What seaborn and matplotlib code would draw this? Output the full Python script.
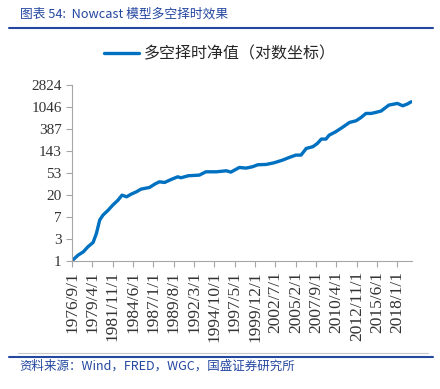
import numpy as np
import pandas as pd
import seaborn as sns
import matplotlib.pyplot as plt
import matplotlib.dates as mdates

# net value of the long/short timing strategy (log scale)
dates = ['1976-09', '1977-06', '1978-02', '1978-09', '1979-05', '1979-10', '1980-03',
         '1980-08', '1981-04', '1981-11', '1982-07', '1983-01', '1983-08', '1984-03',
         '1984-11', '1985-06', '1986-07', '1987-03', '1987-10', '1988-06', '1989-04',
         '1990-02', '1990-07', '1991-06', '1992-11', '1993-09', '1995-01', '1996-04',
         '1996-11', '1997-12', '1998-10', '1999-08', '2000-04', '2001-05', '2002-05',
         '2003-06', '2004-04', '2005-02', '2005-10', '2006-06', '2007-04', '2007-11',
         '2008-05', '2008-12', '2009-05', '2010-03', '2011-01', '2011-12', '2012-10',
         '2013-05', '2014-01', '2014-09', '2015-04', '2015-12', '2016-12', '2018-01',
         '2018-09', '2019-04', '2019-10']
net_value = [1.0, 1.28, 1.49, 1.87, 2.28, 3.42, 6.26,
             7.86, 9.85, 12.4, 15.5, 19.4, 18.0, 20.3,
             22.6, 25.5, 27.5, 32.0, 35.5, 34.5, 39.5,
             44.6, 42.6, 46.7, 48.1, 55.9, 55.9, 58.5,
             55.1, 68.0, 66.0, 70.2, 76.8, 78.0, 84.1,
             95.0, 107, 119, 119, 161, 174, 202,
             246, 246, 294, 343, 417, 523, 564,
             646, 786, 786, 823, 874, 1147, 1236,
             1112, 1200, 1332]

ytick_labels = ['1', '3', '7', '20', '53', '143', '387', '1046', '2824']
series_name = '多空择时净值（对数坐标）'
title = '图表 54:  Nowcast 模型多空择时效果'
source = '资料来源：Wind，FRED，WGC，国盛证券研究所'

df = pd.DataFrame({'date': pd.to_datetime(dates), 'value': net_value})

sns.set_theme(style='ticks')
plt.rcParams['font.family'] = ['Noto Sans CJK SC', 'DejaVu Sans']

blue = '#0070C0'
dark_blue = '#2447A0'
grey = '#A6A6A6'

fig = plt.figure(figsize=(4.4, 3.89), dpi=100)
ax = fig.add_axes([0.164, 0.330, 0.772, 0.451])

sns.lineplot(data=df, x='date', y='value', ax=ax, color=blue, linewidth=2.4)

ax.set_yscale('log')
yticks = [2.7 ** k for k in range(len(ytick_labels))]
ax.set_yticks(yticks)
ax.set_yticklabels(ytick_labels)
ax.yaxis.set_minor_locator(plt.NullLocator())
ax.set_ylim(1, yticks[-1])

xticks = pd.date_range('1976-09-01', '2018-01-01', freq='31MS')
ax.set_xticks(xticks)
ax.set_xticklabels([f'{d.year}/{d.month}/{d.day}' for d in xticks], rotation=90)
ax.set_xlim(pd.Timestamp('1976-09-01'), pd.Timestamp('2019-11-01'))

ax.set_xlabel('')
ax.set_ylabel('')
for side in ['top', 'right']:
    ax.spines[side].set_visible(False)
for side in ['left', 'bottom']:
    ax.spines[side].set_color(grey)
    ax.spines[side].set_linewidth(0.8)
ax.tick_params(axis='both', colors=grey, length=4, width=0.8, labelcolor='#333333')
for lab in ax.get_yticklabels():
    lab.set_fontfamily('Liberation Serif')
    lab.set_fontsize(11)
for lab in ax.get_xticklabels():
    lab.set_fontfamily('Liberation Serif')
    lab.set_fontsize(12.5)

# legend, centred on the figure above the plot
ax.legend([plt.Line2D([], [], color=blue, linewidth=2.4)], [series_name],
          loc='center', bbox_to_anchor=(0.5, 1 - 54 / 389), bbox_transform=fig.transFigure,
          frameon=False, handlelength=2.2, handletextpad=0.3,
          prop={'family': ['Noto Sans CJK SC', 'DejaVu Sans'], 'size': 11.5})

# header / footer decorations
fig.text(0.045, 1 - 14 / 389, title, fontsize=9.2, style='italic', color=dark_blue,
         va='center', ha='left')
fig.add_artist(plt.Line2D([0.02, 0.984], [1 - 28 / 389] * 2, color=dark_blue, linewidth=1.5))
fig.add_artist(plt.Line2D([0.04, 0.973], [1 - 353 / 389] * 2, color='#C8C8C8', linewidth=0.8))
fig.add_artist(plt.Line2D([0.02, 0.984], [1 - 357 / 389] * 2, color=dark_blue, linewidth=1.5))
fig.text(0.045, 1 - 366 / 389, source, fontsize=9, style='italic', color=dark_blue,
         va='center', ha='left')

fig.savefig('out.png', dpi=100)
